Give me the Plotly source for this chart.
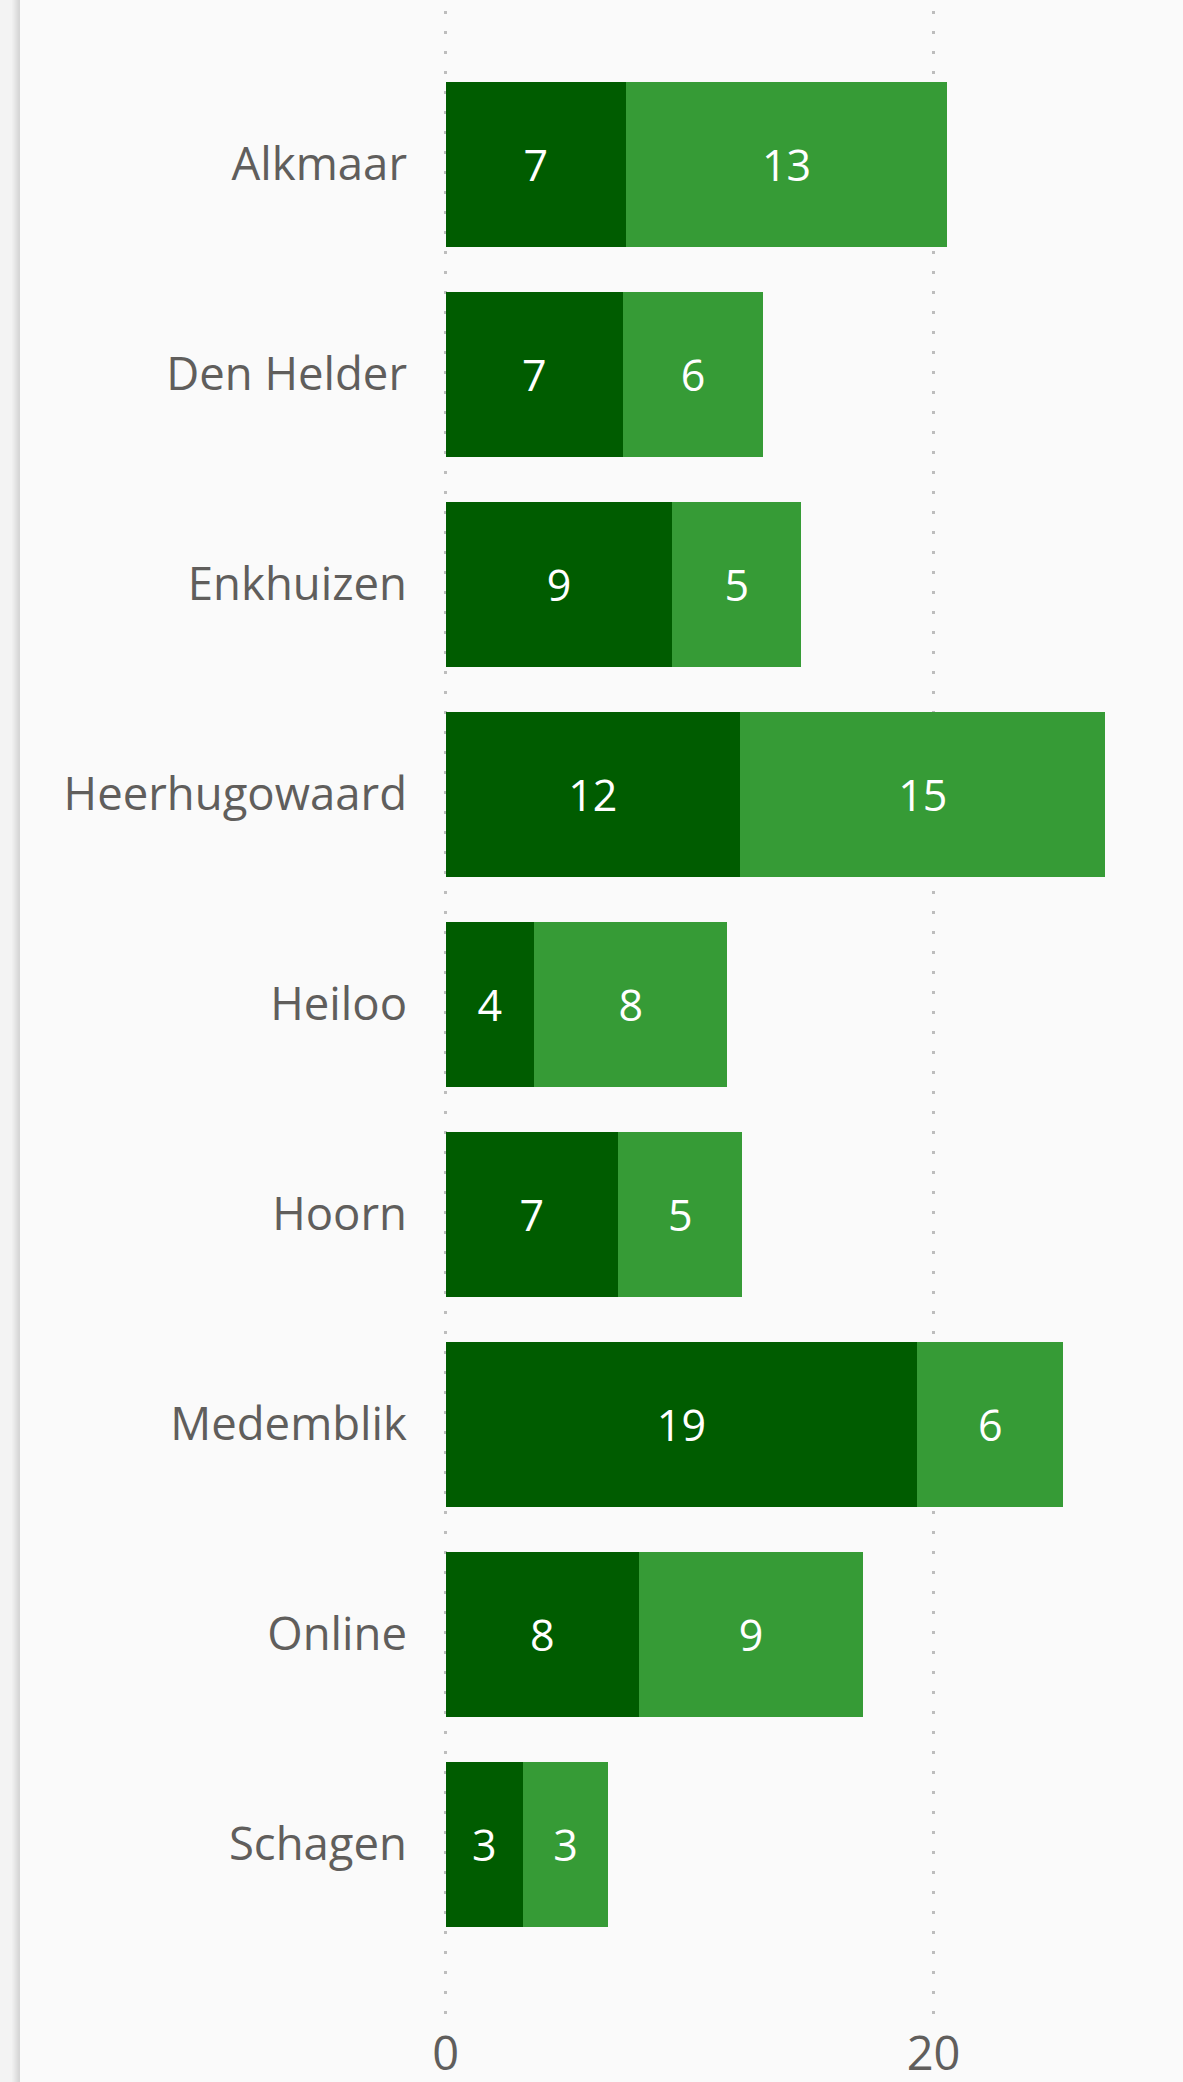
import plotly.graph_objects as go

categories = ["Alkmaar", "Den Helder", "Enkhuizen", "Heerhugowaard", "Heiloo",
              "Hoorn", "Medemblik", "Online", "Schagen"]
series_a = [7.39, 7.27, 9.29, 12.07, 3.63, 7.07, 19.33, 7.93, 3.18]
series_b = [13.16, 5.74, 5.29, 14.97, 7.91, 5.09, 5.98, 9.18, 3.48]
x_ticks = [0, 20]

W, H = 1183, 2082
ML, MR, MT, MB = 444, 0, 11, 66
FONT = "Segoe UI, Open Sans, sans-serif"
BG = "#FAFAFA"

fig = go.Figure()
for vals, col in [(series_a, "#005C00"), (series_b, "#369B36")]:
    fig.add_trace(go.Bar(
        y=categories, x=vals, orientation="h",
        marker=dict(color=col, line=dict(width=0)),
        texttemplate="%{x:.0f}", textposition="inside",
        insidetextanchor="middle", textangle=0, constraintext="none",
        textfont=dict(family=FONT, size=43, color="white"),
        hoverinfo="skip",
    ))

# left edge shadow (decoration)
shapes = []
plot_w = W - ML - MR
def px2paper(px):
    return (px - ML) / plot_w
shapes.append(dict(type="rect", xref="paper", yref="paper",
                   x0=px2paper(0), x1=px2paper(12), y0=-1, y1=2,
                   fillcolor="#F3F3F3", line=dict(width=0), layer="below"))
grad = ["#EFEFEF", "#ECECEC", "#E8E8E8", "#E4E4E4", "#E0E0E0", "#DCDCDC", "#D8D8D8", "#D6D6D6"]
for i, c in enumerate(grad):
    shapes.append(dict(type="rect", xref="paper", yref="paper",
                       x0=px2paper(12 + i), x1=px2paper(13 + i), y0=-1, y1=2,
                       fillcolor=c, line=dict(width=0), layer="below"))

fig.update_layout(
    width=W, height=H,
    margin=dict(l=ML, r=MR, t=MT, b=MB, pad=0, autoexpand=False),
    barmode="stack", bargap=0.214,
    paper_bgcolor=BG, plot_bgcolor=BG,
    showlegend=False,
    font=dict(family=FONT, color="#605E5C"),
    shapes=shapes,
    xaxis=dict(
        range=[-0.066, 30.22], tickvals=x_ticks, ticktext=[str(t) for t in x_ticks],
        showgrid=True, gridcolor="#BDBDBD", gridwidth=3, griddash="3px,17px",
        zeroline=False, showline=False, ticks="", automargin=False,
        tickfont=dict(family=FONT, size=47, color="#605E5C"),
        ticklabelstandoff=6, fixedrange=True,
    ),
    yaxis=dict(
        type="category", categoryorder="array", categoryarray=categories,
        range=[8.818, -0.731], automargin=False,
        showgrid=False, zeroline=False, showline=False, ticks="",
        tickfont=dict(family=FONT, size=45.5, color="#605E5C"),
        ticklabelstandoff=36, fixedrange=True,
    ),
)

fig.write_html("out.html", config={"displayModeBar": False},
               post_script="document.body.style.margin='0';document.body.style.overflow='hidden';document.body.style.background='#FAFAFA';")
